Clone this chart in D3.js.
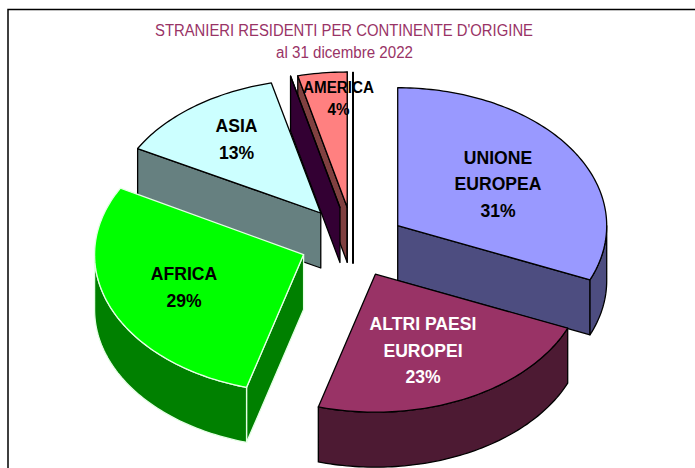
<!DOCTYPE html>
<html>
<head>
<meta charset="utf-8">
<script src="https://cdn.jsdelivr.net/npm/d3@7"></script>
<style>
  body { margin: 0; background: #fff; }
  svg { display: block; font-family: "Liberation Sans", Arial, sans-serif; }
</style>
</head>
<body>
<div id="chart"></div>
<script>
// Two slices have no label and a value of 0: only their side wall shows
var categories = ["UNIONE EUROPEA", "ALTRI PAESI EUROPEI", "AFRICA", "ASIA", "", "AMERICA", ""];
var values = [31.4, 23.0, 28.6, 13.2, 0, 3.8, 0];
var labelLines = [["UNIONE", "EUROPEA"], ["ALTRI PAESI", "EUROPEI"], ["AFRICA"], ["ASIA"], [], ["AMERICA"], []];
var topColors = ["#9999ff", "#993366", "#00ff00", "#ccffff", "#660066", "#ff8080", "#000000"];
var strokeColors = ["#000", "#000", "#e4ffe4", "#000", "#000", "#000", "#000"];
var labelColors = ["#000", "#fff", "#000", "#000", "#000", "#000", "#000"];

var width = 695, height = 468;
var cx = 352.5, cy = 242.5;    // pie centre before the slices are pulled out
var rx = 209, ry = 138;        // tilted pie is an ellipse
var depth = 55;
var explodeX = 53, explodeY = 34;
// small per slice corrections: the back of the pie is a little flatter
var nudgeX = [1, 0, 0, 0.5, 0, 1, 0.5];
var nudgeY = [2, 1, -1, -2.5, -2, -1.5, -0.5];
var flatten = [1, 1, 1, 0.97, 0.98, 0.98, 0.98];
var strokeWidths = [1.3, 1.3, 1.3, 1.3, 1.3, 1.3, 2];

// label anchors, first line baseline and line step
var labelAt = [[498, 163.5, 26.5], [423, 330, 26.5], [184, 280, 27], [236.5, 131.5, 27.5], null, [338.5, 93, 22], null];
var labelSize = [18.5, 18.5, 18.5, 18.5, 0, 16, 0];
var labelSqueeze = 0.95;       // the original font runs a little narrower

var svg = d3.select("#chart")
  .append("svg")
    .attr("width", width)
    .attr("height", height);

svg.append("rect")
  .attr("width", width)
  .attr("height", height)
  .attr("fill", "#fff");

// frame of the chart, cut by the window on the right and at the bottom
svg.append("path")
  .attr("d", "M8,468V9.5H695")
  .attr("fill", "none")
  .attr("stroke", "#000")
  .attr("stroke-width", 1.5);

svg.append("text")
  .attr("x", 344).attr("y", 36)
  .attr("text-anchor", "middle")
  .attr("fill", "#993366")
  .attr("font-size", 16)
  .attr("textLength", 378)
  .attr("lengthAdjust", "spacingAndGlyphs")
  .text("STRANIERI RESIDENTI PER CONTINENTE D'ORIGINE");

svg.append("text")
  .attr("x", 344.5).attr("y", 58)
  .attr("text-anchor", "middle")
  .attr("fill", "#993366")
  .attr("font-size", 16)
  .attr("textLength", 137)
  .attr("lengthAdjust", "spacingAndGlyphs")
  .text("al 31 dicembre 2022");

var pie = d3.pie().sort(null).value((d) => d)(values);

var line = d3.line();
var percent = d3.format(".0%");
var total = d3.sum(values);

// angle is measured clockwise from the top of the pie
function onRim(apex, a, drop, k) {
  return [apex[0] + rx * Math.sin(a), apex[1] - ry * k * Math.cos(a) + drop];
}

function rimPoints(apex, a0, a1, drop, k) {
  var n = Math.max(2, Math.ceil((a1 - a0) / 0.02));
  return d3.range(n + 1).map((i) => onRim(apex, a0 + (a1 - a0) * i / n, drop, k));
}

function radialWall(apex, a, k) {
  return [apex, onRim(apex, a, 0, k), onRim(apex, a, depth, k), [apex[0], apex[1] + depth]];
}

// back slices first, so the nearer ones cover them
var drawOrder = [5, 4, 3, 6, 0, 1, 2];

drawOrder.forEach((i) => {
  var s = pie[i];
  var k = flatten[i];
  var mid = (s.startAngle + s.endAngle) / 2;
  var apex = [cx + explodeX * Math.sin(mid) + nudgeX[i], cy - explodeY * Math.cos(mid) + nudgeY[i]];
  var top = d3.rgb(topColors[i]);
  var wall = d3.rgb(top.r / 2, top.g / 2, top.b / 2).toString();

  var g = svg.append("g")
    .attr("class", "slice")
    .attr("stroke", strokeColors[i])
    .attr("stroke-width", strokeWidths[i])
    .attr("stroke-linejoin", "round");

  // a cut face only shows when it falls outside the top of the slice
  if (Math.sin(s.startAngle) < 0) {
    g.append("path").attr("fill", wall).attr("d", line(radialWall(apex, s.startAngle, k)) + "Z");
  }
  if (Math.sin(s.endAngle) > 0) {
    g.append("path").attr("fill", wall).attr("d", line(radialWall(apex, s.endAngle, k)) + "Z");
  }

  // outer wall only on the front half of the ellipse
  var a0 = Math.max(s.startAngle, Math.PI / 2);
  var a1 = Math.min(s.endAngle, Math.PI * 1.5);
  if (a1 > a0) {
    var upper = rimPoints(apex, a0, a1, 0, k);
    var lower = rimPoints(apex, a0, a1, depth, k).reverse();
    g.append("path").attr("fill", wall).attr("d", line(upper.concat(lower)) + "Z");
  }

  g.append("path")
    .attr("fill", topColors[i])
    .attr("d", line([apex].concat(rimPoints(apex, s.startAngle, s.endAngle, 0, k))) + "Z");
});

// labels go over every slice
labelLines.forEach((lines, i) => {
  if (!lines.length) return;
  lines.concat(percent(values[i] / total)).forEach((txt, k) => {
    var label = svg.append("text")
      .attr("x", labelAt[i][0])
      .attr("y", labelAt[i][1] + k * labelAt[i][2])
      .attr("text-anchor", "middle")
      .attr("font-weight", "bold")
      .attr("font-size", labelSize[i])
      .attr("fill", labelColors[i])
      .text(txt);
    label
      .attr("textLength", label.node().getComputedTextLength() * labelSqueeze)
      .attr("lengthAdjust", "spacingAndGlyphs");
  });
});
</script>
</body>
</html>
